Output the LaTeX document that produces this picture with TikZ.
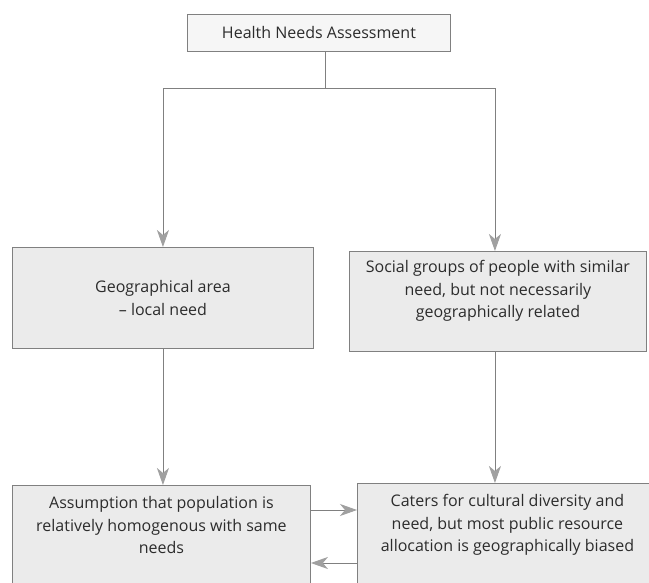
\documentclass[tikz,border=0pt]{standalone}
\usepackage{fontspec}
\setmainfont{Open Sans}
\usetikzlibrary{arrows.meta}
\definecolor{boxfill}{HTML}{EBEBEB}
\definecolor{topfill}{HTML}{F6F6F6}
\definecolor{edge}{HTML}{808080}
\definecolor{ink}{HTML}{2C2C2C}
\definecolor{tipfill}{HTML}{A0A0A0}
\tikzset{
  box/.style={draw=edge, line width=0.9pt, fill=boxfill, text=ink, align=center,
    inner sep=0pt, anchor=north west,
    font=\fontsize{16}{22.5}\selectfont},
  conn/.style={draw=edge, line width=0.9pt,
    -{Stealth[length=17pt, width=12pt, inset=5pt, fill=tipfill, color=tipfill]}},
  plain/.style={draw=edge, line width=0.9pt}
}
\newcommand{\boxtext}[3]{\parbox[c][#1][t]{#2}{\centering #3}}
\begin{document}
\begin{tikzpicture}[x=1pt, y=-1pt]
  \useasboundingbox (0,0) rectangle (649,582);
  \fill[white] (0,0) rectangle (649,582);

  % top box
  \node[box, fill=topfill, minimum width=263pt, minimum height=37pt] (hna) at (187,14)
    {Health Needs Assessment};

  % second row
  \node[box, minimum width=301pt, minimum height=101pt] (geo) at (12,247)
    {Geographical area\\ -- local need};
  \node[box, minimum width=297pt, minimum height=100pt] (soc) at (349,251)
    {\boxtext{100pt}{294pt}{\vspace{9pt}Social groups of people with similar\\ need, but not necessarily\\ geographically related}};

  % bottom row (runs past the page edge)
  \node[box, minimum width=298pt] (hom) at (12,485)
    {\boxtext{120pt}{296pt}{\vspace{11pt}Assumption that population is\\ relatively homogenous with same\\ needs}};
  \node[box, minimum width=300pt] (cul) at (357,483)
    {\boxtext{122pt}{298pt}{\vspace{11pt}Caters for cultural diversity and\\ need, but most public resource\\ allocation is geographically biased}};

  % branching connectors
  \coordinate (split) at (325,88);
  \draw[plain] (hna.south -| split) -- (split);
  \draw[conn] (split) -| (geo.north);
  \draw[conn] (split) -| ([xshift=-3pt]soc.north);

  % downward connectors
  \draw[conn] (geo.south) -- (geo.south |- hom.north);
  \draw[conn] ([xshift=-3pt]soc.south) -- ([xshift=-3pt]soc.south |- cul.north);

  % links between the bottom boxes
  \draw[conn] ([yshift=-25pt]hom.north east) -- ([yshift=-25pt]hom.north east -| cul.west);
  \draw[conn] ([yshift=-78pt]hom.north east -| cul.west) -- ([yshift=-78pt]hom.north east);
\end{tikzpicture}
\end{document}
